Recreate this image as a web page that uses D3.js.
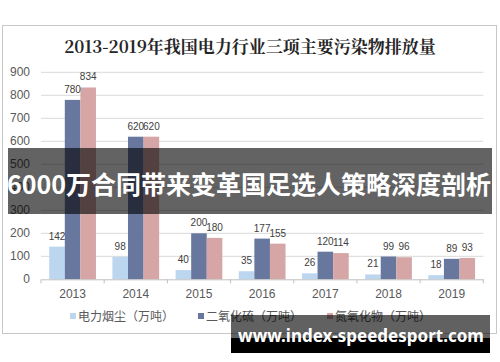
<!DOCTYPE html>
<html><head><meta charset="utf-8">
<script src="https://cdn.jsdelivr.net/npm/d3@7"></script>
<style>html,body{margin:0;padding:0;background:#fff;}svg{display:block;}</style>
</head><body>
<svg id="chart" width="500" height="362"></svg>
<script>
const years = ["2013","2014","2015","2016","2017","2018","2019"];
const seriesNames = ["电力烟尘（万吨）","二氧化硫（万吨）","氮氧化物（万吨）"];
const dust = [142, 98, 40, 35, 26, 21, 18];
const so2 = [780, 620, 200, 177, 120, 99, 89];
const nox = [834, 620, 180, 155, 114, 96, 93];
const yTicks = [0,100,200,300,400,500,600,700,800,900];
const colors = ["#bcd6f0","#68779e","#d6a6a7"];
const title = "2013-2019年我国电力行业三项主要污染物排放量";
const overlayText = "6000万合同带来变革国足选人策略深度剖析";
const siteText = "www.index-speedesport.com";

const series = [dust, so2, nox];
const svg = d3.select("#chart");
const font = "'Liberation Sans', Arial, sans-serif";
const cjk = "'Noto Sans CJK SC', sans-serif";

// border
svg.append("rect").attr("x",2.5).attr("y",25.5).attr("width",494).attr("height",308)
  .attr("fill","#fff").attr("stroke","#c8c8c8");

// title
svg.append("text").attr("x",250).attr("y",53).attr("text-anchor","middle")
  .attr("font-family","'Noto Serif CJK SC','Noto Sans CJK SC',serif").attr("font-weight","bold")
  .attr("font-size",17).attr("fill","#262626").text(title);

const x = d3.scaleBand().domain(years).range([41,483.3]).padding(0);
const y = d3.scaleLinear().domain([0,900]).range([279.3,72.3]);
const groupW = x.bandwidth()*0.74;
const x1 = d3.scaleBand().domain(d3.range(3)).range([0,groupW]).padding(0);

// gridlines
svg.append("g").selectAll("line").data(yTicks.filter(d=>d>0)).join("line")
  .attr("x1",41).attr("x2",483.3).attr("y1",d=>y(d)).attr("y2",d=>y(d))
  .attr("stroke","#d9d9d9").attr("stroke-width",1);

// y labels
svg.append("g").selectAll("text").data(yTicks).join("text")
  .attr("x",30).attr("y",d=>y(d)+4).attr("text-anchor","end")
  .attr("font-family",font).attr("font-size",12).attr("fill","#595959").text(d=>d);

// bars
const groups = svg.append("g").selectAll("g").data(years).join("g")
  .attr("transform",d=>`translate(${x(d)+(x.bandwidth()-groupW)/2},0)`);
groups.selectAll("rect").data((d,i)=>series.map((s,k)=>({k,v:s[i]}))).join("rect")
  .attr("x",d=>x1(d.k)).attr("width",x1.bandwidth())
  .attr("y",d=>y(d.v)).attr("height",d=>y(0)-y(d.v)).attr("fill",d=>colors[d.k]);
groups.selectAll("text").data((d,i)=>series.map((s,k)=>({k,v:s[i]}))).join("text")
  .attr("x",d=>x1(d.k)+x1.bandwidth()/2).attr("y",d=>y(d.v)-7).attr("text-anchor","middle")
  .attr("font-family",font).attr("font-size",10).attr("fill","#404040").text(d=>d.v);

// x axis
const xAxis = d3.axisBottom(x).tickSize(0).tickPadding(10);
const ax = svg.append("g").attr("transform",`translate(0,${y(0)})`).call(xAxis);
ax.select(".domain").attr("stroke","#bfbfbf");
ax.selectAll("text").attr("font-family",font).attr("font-size",12).attr("fill","#595959");
svg.append("g").selectAll("line").data(d3.range(years.length+1)).join("line")
  .attr("x1",i=>41+i*x.step()).attr("x2",i=>41+i*x.step())
  .attr("y1",y(0)).attr("y2",y(0)+4).attr("stroke","#bfbfbf");

// legend
const legX = [70,198,327];
const leg = svg.append("g").selectAll("g").data(seriesNames).join("g")
  .attr("transform",(d,i)=>`translate(${legX[i]},316)`);
leg.append("rect").attr("x",0).attr("y",-3).attr("width",6).attr("height",6).attr("fill",(d,i)=>colors[i]);
leg.append("text").attr("x",8).attr("y",4.5).attr("font-family",cjk).attr("font-size",12)
  .attr("fill","#595959").text(d=>d);

// overlay banner
svg.append("rect").attr("x",8).attr("y",148).attr("width",484).attr("height",66)
  .attr("fill","rgba(0,0,0,0.61)");
svg.append("text").attr("x",249).attr("y",194).attr("text-anchor","middle")
  .attr("font-family",cjk).attr("font-weight","bold").attr("font-size",25).attr("fill","#fff")
  .text(overlayText);

// site banner
svg.append("rect").attr("x",231).attr("y",315).attr("width",259).attr("height",23).attr("fill","rgba(0,0,0,0.62)");
svg.append("rect").attr("x",231).attr("y",338).attr("width",259).attr("height",15).attr("fill","#000");
svg.append("text").attr("x",361).attr("y",342).attr("text-anchor","middle")
  .attr("font-family","'Noto Sans','Open Sans',sans-serif").attr("font-weight","bold").attr("font-size",17)
  .attr("fill","#fff").text(siteText);
</script>
</body></html>
